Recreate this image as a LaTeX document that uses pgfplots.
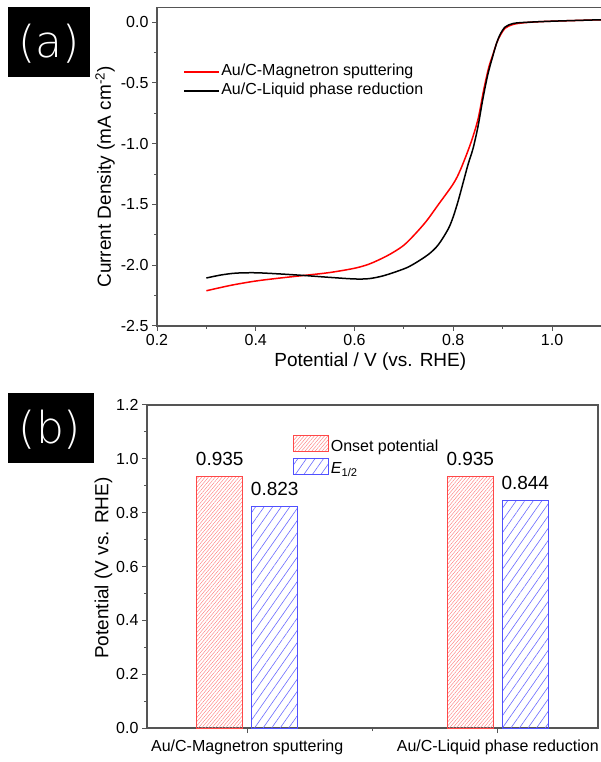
\documentclass[border=0pt]{standalone}
\usepackage{fontspec}
\setmainfont{Liberation Sans}
\newfontfamily\panelfont{DejaVu Sans ExtraLight}
\usepackage{pgfplots}
\pgfplotsset{compat=1.18}
\usetikzlibrary{patterns.meta}

\definecolor{axisgray}{HTML}{555555}
\definecolor{onsetred}{HTML}{FF4848}
\definecolor{hatchred}{HTML}{FF8080}
\definecolor{halfblue}{HTML}{5050FF}
\definecolor{hatchblue}{HTML}{6A6AFF}

\newcommand{\ticksize}{\fontsize{16}{19}\selectfont}
\newcommand{\labelsize}{\fontsize{19}{22}\selectfont}

\pgfplotsset{
  /pgf/number format/assume math mode=true,
  panel/.style={
    scale only axis,
    tick align=outside,
    xtick pos=bottom, ytick pos=left,
    major tick length=5pt, minor tick length=3pt,
    axis line style={draw=axisgray, line width=1.2pt},
    every tick/.append style={axisgray, line width=1pt},
    tick label style={font=\ticksize},
    yticklabel style={/pgf/number format/.cd, fixed, fixed zerofill, precision=1},
  },
}

\begin{document}
\begin{tikzpicture}[x=1pt,y=1pt]
\useasboundingbox (0,0) rectangle (600,762);

% ---------------- (a) polarization curves ----------------
\fill[black] (8,685) rectangle (90,755);
\node[white, font=\panelfont\fontsize{44}{48}\selectfont] at (49,718) {(a)};

\begin{axis}[panel,
  at={(157pt,436pt)}, anchor=south west,
  width=444.4pt, height=318.4pt,
  xmin=0.2, xmax=1.1, ymin=-2.5, ymax=0.12,
  xtick={0.2,0.4,0.6,0.8,1.0},
  ytick={-2.5,-2,-1.5,-1,-0.5,0},
  minor tick num=1,
  xticklabel style={/pgf/number format/.cd, fixed, fixed zerofill, precision=1},
  xlabel={Potential / V (vs. RHE)},
  ylabel={Current Density (mA cm\textsuperscript{-2})},
  every axis x label/.style={at={(axis description cs:0.48,-0.113)}, anchor=center, font=\labelsize},
  every axis y label/.style={at={(axis description cs:-0.117,0.468)}, anchor=center, rotate=90, font=\labelsize},
  legend cell align=left,
  legend image code/.code={\draw[#1, line width=1.6pt] (0pt,0pt) -- (35pt,0pt);},
  legend style={draw=none, fill=none, at={(axis description cs:0.0585,0.829)}, anchor=north west,
    font=\fontsize{16}{19}\selectfont, inner sep=0pt, row sep=0pt,
    nodes={inner sep=1.5pt, text height=11.5pt, text depth=4.5pt}},
]
\addplot[red, line width=1.5pt, smooth] coordinates {
 (0.30,-2.21) (0.35,-2.165) (0.40,-2.13) (0.45,-2.105) (0.50,-2.083)
 (0.55,-2.06) (0.60,-2.025) (0.63,-1.99) (0.66,-1.935) (0.68,-1.89)
 (0.70,-1.835) (0.72,-1.755) (0.745,-1.64) (0.77,-1.50) (0.80,-1.33)
 (0.815,-1.21) (0.835,-1.00) (0.85,-0.80) (0.862,-0.55) (0.872,-0.37)
 (0.88,-0.27) (0.888,-0.17) (0.895,-0.11) (0.905,-0.05) (0.92,-0.02)
 (0.94,-0.006) (0.97,0.003) (1.00,0.008) (1.05,0.014) (1.10,0.02)
};
\addlegendentry{Au/C-Magnetron sputtering}
\addplot[black, line width=1.5pt, smooth] coordinates {
 (0.30,-2.105) (0.33,-2.08) (0.36,-2.065) (0.40,-2.062) (0.45,-2.072)
 (0.50,-2.085) (0.55,-2.10) (0.60,-2.113) (0.63,-2.11) (0.66,-2.085)
 (0.70,-2.03) (0.72,-1.99) (0.75,-1.91) (0.77,-1.83) (0.79,-1.70)
 (0.80,-1.60) (0.81,-1.47) (0.82,-1.32) (0.83,-1.17) (0.84,-1.04)
 (0.85,-0.86) (0.86,-0.63) (0.87,-0.43) (0.88,-0.28) (0.888,-0.17)
 (0.895,-0.10) (0.905,-0.04) (0.92,-0.012) (0.94,-0.003) (1.00,0.008)
 (1.10,0.02)
};
\addlegendentry{Au/C-Liquid phase reduction}
\end{axis}

% ---------------- (b) onset and half-wave potentials ----------------
\fill[black] (8,299) rectangle (94,369);
\node[white, font=\panelfont\fontsize{44}{48}\selectfont] at (50,332) {(b)};

\begin{axis}[panel,
  at={(147pt,34pt)}, anchor=south west,
  width=451pt, height=323pt,
  xmin=0.6, xmax=2.4, ymin=0, ymax=1.2,
  xtick={1,2}, minor xtick={1.5},
  xticklabels={Au/C-Magnetron sputtering, Au/C-Liquid phase reduction},
  xticklabel style={yshift=-3pt},
  ytick={0,0.2,0.4,0.6,0.8,1.0,1.2},
  minor ytick={0.1,0.3,0.5,0.7,0.9,1.1},
  ylabel={Potential (V vs. RHE)},
  every axis y label/.style={at={(axis description cs:-0.0965,0.495)}, anchor=center, rotate=90, font=\labelsize},
  ybar=8.5pt, bar width=46.5pt,
  nodes near coords={\pgfmathprintnumber[fixed, fixed zerofill, precision=3]{\pgfplotspointmeta}},
  nodes near coords style={font=\labelsize, anchor=base, yshift=11pt, inner sep=0pt, text=black},
  legend cell align=left,
  legend image code/.code={\draw[#1] (0pt,-4pt) rectangle (35pt,12pt);},
  legend style={draw=none, fill=none, at={(axis description cs:0.324,0.907)}, anchor=north west,
    font=\fontsize{16}{19}\selectfont, inner sep=0pt, row sep=0pt,
    nodes={inner sep=1.5pt, text height=12pt, text depth=5pt}},
]
\addplot[draw=onsetred, line width=1pt, pattern={Lines[angle=50, distance=2.6pt, line width=0.45pt]}, pattern color=hatchred]
  coordinates {(1,0.935) (2,0.935)};
\addlegendentry{Onset potential}
\addplot[draw=halfblue, line width=1pt, pattern={Lines[angle=55, distance=7pt, line width=0.6pt]}, pattern color=hatchblue]
  coordinates {(1,0.823) (2,0.844)};
\addlegendentry{\textit{E}\textsubscript{1/2}}
\end{axis}
\end{tikzpicture}
\end{document}
